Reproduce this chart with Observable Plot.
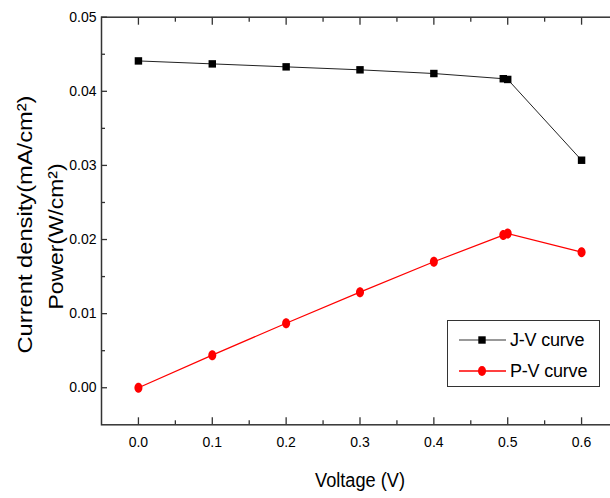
<!DOCTYPE html>
<html>
<head>
<meta charset="utf-8">
<script src="https://cdn.jsdelivr.net/npm/d3@7"></script>
<script src="https://cdn.jsdelivr.net/npm/@observablehq/plot@0.6"></script>
<style>
  html, body { margin: 0; padding: 0; background: #fff; }
  #wrap { position: relative; width: 610px; height: 498px; overflow: hidden; font-family: "Liberation Sans", Arial, sans-serif; }
  #legend { position: absolute; left: 447px; top: 320px; width: 153px; height: 67px; border: 1.3px solid #333; box-sizing: border-box; background: #fff; }
  #legend .row { position: absolute; left: 0; height: 24px; display: flex; align-items: center; font-size: 18px; color: #000; white-space: nowrap; letter-spacing: -0.2px; }
  #legend svg { display: block; }
</style>
</head>
<body>
<div id="wrap"></div>
<script>
// ---- data ----
const voltage = [0, 0.1, 0.2, 0.3, 0.4, 0.494, 0.5, 0.6];
const currentDensity = [0.0441, 0.0437, 0.0433, 0.0429, 0.0424, 0.0417, 0.0416, 0.0307];
const powerDensity = [0.0000, 0.0044, 0.0087, 0.0129, 0.0170, 0.0206, 0.0208, 0.0183];
const xTicks = [0, 0.1, 0.2, 0.3, 0.4, 0.5, 0.6];
const xMinorTicks = [0.05, 0.15, 0.25, 0.35, 0.45, 0.55];
const yTicks = [0, 0.01, 0.02, 0.03, 0.04, 0.05];
const yMinorTicks = [0.005, 0.015, 0.025, 0.035, 0.045];
const seriesNames = ["J-V curve", "P-V curve"];
const xTitle = "Voltage (V)";
const yTitleLines = ["Current density(mA/cm²)", "Power(W/cm²)"];

const jv = voltage.map((v, i) => ({v, val: currentDensity[i]}));
const pv = voltage.map((v, i) => ({v, val: powerDensity[i]}));

const ellipse = {
  draw(ctx, size) {
    const r = Math.sqrt(size / Math.PI), rx = r * 0.8, ry = r, k = 0.5523;
    ctx.moveTo(rx, 0);
    ctx.bezierCurveTo(rx, ry * k, rx * k, ry, 0, ry);
    ctx.bezierCurveTo(-rx * k, ry, -rx, ry * k, -rx, 0);
    ctx.bezierCurveTo(-rx, -ry * k, -rx * k, -ry, 0, -ry);
    ctx.bezierCurveTo(rx * k, -ry, rx, -ry * k, rx, 0);
    ctx.closePath();
  }
};

const axisStroke = "#333";
const chart = Plot.plot({
  width: 610,
  height: 498,
  marginLeft: 101,
  marginRight: -8,
  marginTop: 16.7,
  marginBottom: 73.7,
  style: {fontFamily: "'Liberation Sans', Arial, sans-serif", background: "#fff", color: "#000"},
  x: {domain: [-0.05, 0.65]},
  y: {domain: [-0.005, 0.05]},
  marks: [
    Plot.frame({stroke: axisStroke, strokeWidth: 1.5}),
    // bottom axis labels + ticks
    Plot.axisX(xTicks, {anchor: "bottom", tickSize: 0, tickPadding: 12, tickFormat: ".1f", fontSize: 14, label: null}),
    Plot.axisX(xTicks, {anchor: "bottom", tickSize: -7, text: null, label: null, stroke: axisStroke, strokeWidth: 1.3}),
    Plot.axisX(xMinorTicks, {anchor: "bottom", tickSize: -4, text: null, label: null, stroke: axisStroke, strokeWidth: 1.3}),
    Plot.axisX(xTicks, {anchor: "top", tickSize: -7, text: null, label: null, stroke: axisStroke, strokeWidth: 1.3}),
    Plot.axisX(xMinorTicks, {anchor: "top", tickSize: -4, text: null, label: null, stroke: axisStroke, strokeWidth: 1.3}),
    // left axis
    Plot.axisY(yTicks, {anchor: "left", tickSize: 0, tickPadding: 5, tickFormat: ".2f", fontSize: 14, label: null}),
    Plot.axisY(yTicks, {anchor: "left", tickSize: -6, text: null, label: null, stroke: axisStroke, strokeWidth: 1.3}),
    Plot.axisY(yMinorTicks, {anchor: "left", tickSize: -4, text: null, label: null, stroke: axisStroke, strokeWidth: 1.3}),
    // titles
    Plot.text([xTitle], {text: d => d, frameAnchor: "bottom", dy: 56, fontSize: 20, textAnchor: "middle", lineAnchor: "middle", className: "xtitle"}),
    Plot.text([yTitleLines[0]], {text: d => d, frameAnchor: "left", rotate: -90, dx: -75.5, dy: 3.5, fontSize: 20, textAnchor: "middle", lineAnchor: "middle", className: "ytitle1"}),
    Plot.text([yTitleLines[1]], {text: d => d, frameAnchor: "left", rotate: -90, dx: -44.5, dy: 15.5, fontSize: 20, textAnchor: "middle", lineAnchor: "middle", className: "ytitle2"}),
    // series
    Plot.line(jv, {x: "v", y: "val", stroke: "#222", strokeWidth: 1}),
    Plot.dot(jv, {x: "v", y: "val", symbol: "square", r: 4.2, fill: "#000", stroke: "none"}),
    Plot.line(pv, {x: "v", y: "val", stroke: "#ff0000", strokeWidth: 1.2}),
    Plot.dot(pv, {x: "v", y: "val", symbol: ellipse, r: 5, fill: "#ff0000", stroke: "none"})
  ]
});
// text-length adjustment to mimic the reference's stretched lettering
const svg = d3.select(chart);
svg.selectAll(".xtitle text").attr("textLength", 90).attr("lengthAdjust", "spacingAndGlyphs");
svg.selectAll(".ytitle1 text").attr("textLength", 258).attr("lengthAdjust", "spacingAndGlyphs");
svg.selectAll(".ytitle2 text").attr("textLength", 146).attr("lengthAdjust", "spacingAndGlyphs");

const wrap = document.getElementById("wrap");
wrap.appendChild(chart);

// legend
const legend = document.createElement("div");
legend.id = "legend";
const swatches = [
  `<svg width="62" height="24"><line x1="11" y1="12" x2="58" y2="12" stroke="#777" stroke-width="1.3"/><rect x="30.3" y="8.3" width="7.4" height="7.4" fill="#000"/></svg>`,
  `<svg width="62" height="24"><line x1="11" y1="12" x2="58" y2="12" stroke="#ff0000" stroke-width="1.3"/><ellipse cx="34" cy="12" rx="4" ry="5" fill="#ff0000"/></svg>`
];
seriesNames.forEach((name, i) => {
  const row = document.createElement("div");
  row.className = "row";
  row.style.top = (i === 0 ? 7 : 38) + "px";
  row.innerHTML = swatches[i] + `<span>${name}</span>`;
  legend.appendChild(row);
});
wrap.appendChild(legend);
</script>
</body>
</html>
